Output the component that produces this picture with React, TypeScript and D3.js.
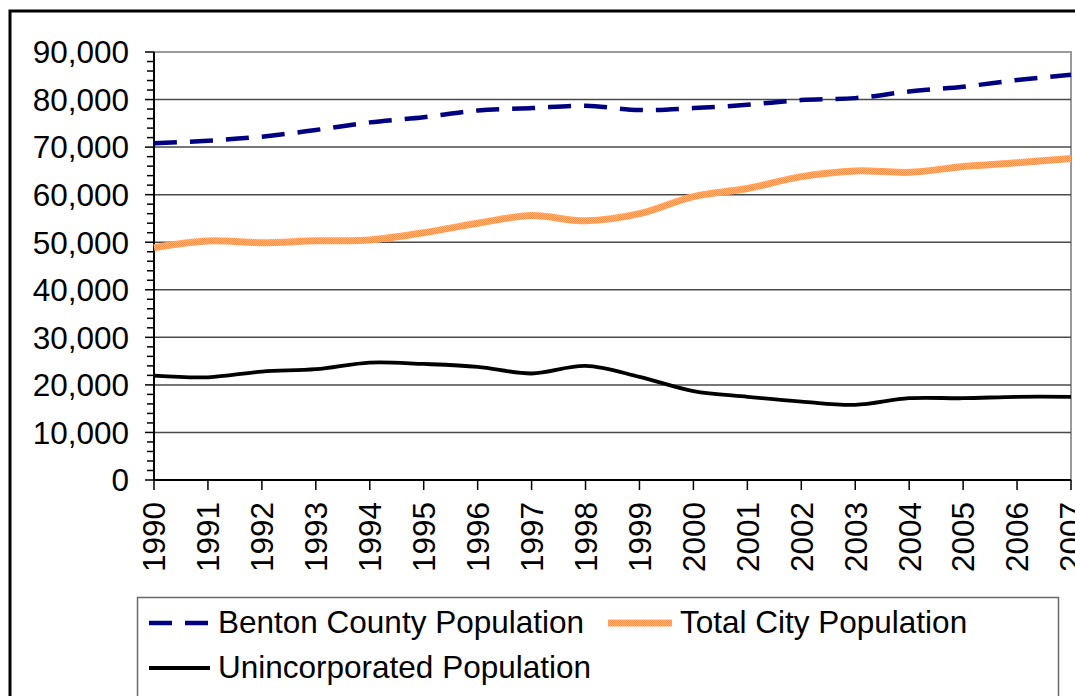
import React from "react";
import * as d3 from "d3";

const years = ["1990","1991","1992","1993","1994","1995","1996","1997","1998","1999","2000","2001","2002","2003","2004","2005","2006","2007"];
const bentonCounty = [70800, 71350, 72200, 73600, 75200, 76300, 77700, 78200, 78700, 77800, 78200, 78900, 79900, 80300, 81700, 82700, 84100, 85200];
const totalCity = [48850, 50260, 49900, 50300, 50470, 52000, 54000, 55600, 54500, 56000, 59600, 61300, 63800, 65000, 64700, 65900, 66700, 67600];
const unincorporated = [21950, 21600, 22800, 23300, 24700, 24400, 23800, 22400, 24000, 21700, 18700, 17500, 16500, 15800, 17200, 17200, 17500, 17500];
const yMajor = [0, 10000, 20000, 30000, 40000, 50000, 60000, 70000, 80000, 90000];
const seriesNames = ["Benton County Population", "Total City Population", "Unincorporated Population"];

const W = 1075;
const H = 696;
const plot = { left: 154, top: 52, right: 1071, bottom: 480 };
const font = "'Liberation Sans', Arial, sans-serif";
const navy = "#000080";

const App = () => {
  const x = d3.scalePoint().domain(years).range([plot.left, plot.right]);
  const y = d3.scaleLinear().domain([0, 90000]).range([plot.bottom, plot.top]);
  const minor = d3.range(0, 90001, 2000);

  const line = d3
    .line<number>()
    .x((_, i) => x(years[i]) as number)
    .y(d => y(d))
    .curve(d3.curveCatmullRom.alpha(0.5));

  return (
    <svg width={W} height={H} style={{ position: "absolute", left: 0, top: 0, display: "block" }}>
      <defs>
        {/* dithered orange like the original export */}
        <pattern id="dither" width={2} height={2} patternUnits="userSpaceOnUse">
          <rect width={2} height={2} fill="#FFB888" />
          <rect width={1} height={1} fill="#FF9048" />
          <rect x={1} y={1} width={1} height={1} fill="#FF9048" />
        </pattern>
      </defs>
      <rect x={0} y={0} width={W} height={H} fill="#fff" />
      {/* outer frame, runs off right and bottom */}
      <rect x={10} y={11} width={W + 20} height={H + 20} fill="none" stroke="#000" strokeWidth={3} />

      {/* plot area border */}
      <rect x={plot.left} y={plot.top} width={plot.right - plot.left} height={plot.bottom - plot.top}
        fill="none" stroke="#9a9a9a" strokeWidth={2} />

      {/* gridlines */}
      {yMajor.filter(v => v > 0 && v < 90000).map(v => (
        <line key={v} x1={plot.left} x2={plot.right} y1={y(v)} y2={y(v)} stroke="#4a4a4a" strokeWidth={1.5} />
      ))}

      {/* y axis */}
      <line x1={plot.left} x2={plot.left} y1={plot.top} y2={plot.bottom} stroke="#000" strokeWidth={2} />
      {minor.map(v => (
        <line key={v} x1={v % 10000 === 0 ? 145 : 147} x2={plot.left} y1={y(v)} y2={y(v)} stroke="#000" strokeWidth={1.5} />
      ))}
      {yMajor.map(v => (
        <text key={v} x={129} y={y(v)} dy="0.36em" textAnchor="end" fontFamily={font} fontSize={31.5} fill="#000">
          {d3.format(",")(v)}
        </text>
      ))}

      {/* x axis */}
      <line x1={plot.left} x2={plot.right} y1={plot.bottom} y2={plot.bottom} stroke="#000" strokeWidth={2} />
      {years.map(yr => (
        <g key={yr}>
          <line x1={x(yr)} x2={x(yr)} y1={plot.bottom} y2={plot.bottom + 10} stroke="#000" strokeWidth={1.5} />
          <text transform={`translate(${x(yr)},${plot.bottom + 22}) rotate(-90)`} dy="0.36em" textAnchor="end"
            fontFamily={font} fontSize={31.5} fill="#000">{yr}</text>
        </g>
      ))}

      {/* series */}
      <path d={line(unincorporated) || ""} fill="none" stroke="#000" strokeWidth={3.8} />
      <path d={line(totalCity) || ""} fill="none" stroke="url(#dither)" strokeWidth={7} />
      <path d={line(bentonCounty) || ""} fill="none" stroke={navy} strokeWidth={4.5} strokeDasharray="23 13" />

      {/* legend */}
      <rect x={137.5} y={597.5} width={921} height={120} fill="#fff" stroke="#6a6a6a" strokeWidth={1.5} />
      <line x1={149} x2={210} y1={623} y2={623} stroke={navy} strokeWidth={4.5} strokeDasharray="23 13" />
      <text x={218} y={633} fontFamily={font} fontSize={31.5} fill="#000">{seriesNames[0]}</text>
      <line x1={608} x2={672} y1={623} y2={623} stroke="url(#dither)" strokeWidth={7} />
      <text x={680} y={633} fontFamily={font} fontSize={31.5} fill="#000">{seriesNames[1]}</text>
      <line x1={149} x2={210} y1={668} y2={668} stroke="#000" strokeWidth={3.8} />
      <text x={218} y={678} fontFamily={font} fontSize={31.5} fill="#000">{seriesNames[2]}</text>
    </svg>
  );
};

export default App;
